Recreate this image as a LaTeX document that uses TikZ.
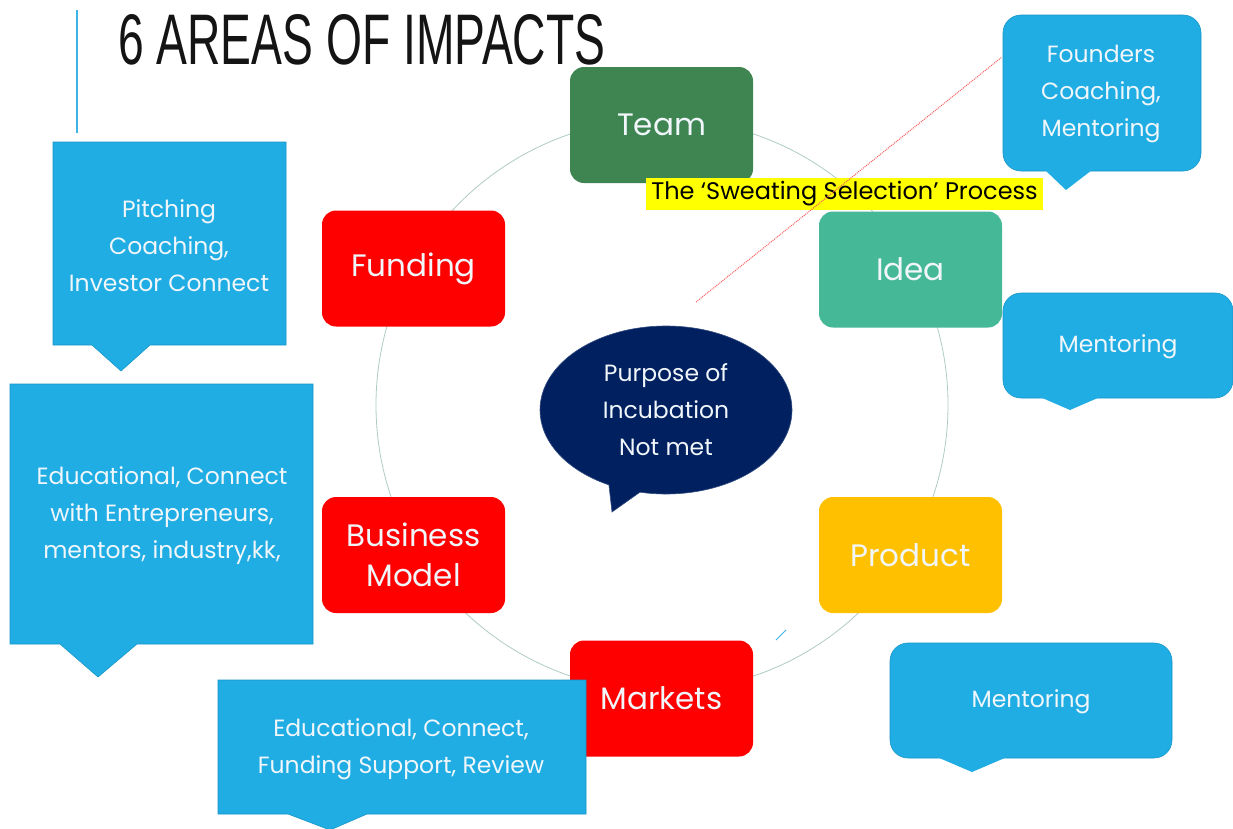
\documentclass[tikz,border=0pt]{standalone}
\usepackage{fontspec}
\usepackage{graphicx}
\setmainfont{Poppins}
\newfontfamily\titlefont{Liberation Sans}
\usetikzlibrary{shapes.callouts,shapes.geometric}
\definecolor{cblue}{RGB}{31,173,228}
\definecolor{cblueedge}{RGB}{24,150,200}
\definecolor{teamgreen}{RGB}{62,133,82}
\definecolor{ideagreen}{RGB}{69,184,151}
\definecolor{pred}{RGB}{255,0,0}
\definecolor{pyellow}{RGB}{255,192,0}
\definecolor{navy}{RGB}{0,32,96}
\definecolor{ringcol}{RGB}{175,205,190}
\definecolor{dotred}{RGB}{250,90,90}
\definecolor{hl}{RGB}{255,255,0}
\definecolor{linkblue}{RGB}{60,180,230}
\definecolor{softwhite}{RGB}{240,246,250}
\definecolor{titleblack}{RGB}{20,20,20}
\begin{document}
\begin{tikzpicture}[x=1pt,y=-1pt,
  area/.style={rounded corners=14pt, text=softwhite, minimum width=183pt, minimum height=116pt, align=center, inner sep=0pt, font=\fontsize{31}{40}\selectfont},
  calltext/.style={text=softwhite, align=center, inner sep=0pt, font=\fontsize{23.5}{37}\selectfont},
  callbox/.style={fill=cblue, draw=cblueedge, line width=0.6pt},
  tail/.style={fill=cblue},
  ring/.style={draw=ringcol, line width=0.8pt},
  selline/.style={draw=dotred, densely dotted, line width=1pt}]
\useasboundingbox (0,0) rectangle (1233,828);
\fill[white] (0,0) rectangle (1233,828);

% title
\draw[linkblue, line width=2.5pt] (77,10) -- (77,133);
\node[anchor=south west, inner sep=0pt, text=titleblack] (title) at (118,65) {\resizebox{487pt}{50pt}{\titlefont 6 AREAS OF IMPACTS}};

% ring
\draw[ring] (662,405) circle[radius=286pt];

% area boxes
\node[area, fill=teamgreen] (team) at (661.5,125) {Team};
\node[area, fill=ideagreen] (idea) at (910.5,269.5) {Idea};
\node[area, fill=pred] (funding) at (413.5,268.5) {Funding};
\node[area, fill=pred] (bm) at (413.5,555) {Business\\Model};
\node[area, fill=pyellow] (product) at (910.5,555) {Product};
\node[area, fill=pred] (markets) at (661.5,698.5) {Markets};

% highlight label
\node[fill=hl, text=black, minimum width=397pt, minimum height=32pt, inner sep=0pt, font=\fontsize{24}{26}\selectfont] (sweat) at (844.5,194) {The ‘Sweating Selection’ Process};

% dotted selection line
\coordinate (sa) at (696,302);
\coordinate (sb) at (1002,57);
\draw[selline] (sa) -- (sb);

% small mark
\coordinate (ma) at (776,640);
\coordinate (mb) at (786,630);
\draw[linkblue, line width=0.8pt] (ma) -- (mb);

% centre speech bubble
\node[ellipse callout, fill=navy, draw=navy!80!white, line width=0.6pt, minimum width=252pt, minimum height=168pt, callout absolute pointer={(612,512)}, calltext] (purpose) at (666,410) {Purpose of\\Incubation\\Not met};

% Pitching callout
\draw[callbox] (53,142) -- (286,142) -- (286,345) -- (150,345) -- (121,371) -- (92,345) -- (53,345) -- cycle;
\node[calltext] (pitch) at (169,246) {Pitching\\Coaching,\\Investor Connect};

% Educational callout
\draw[callbox] (10,384) -- (313,384) -- (313,644) -- (137,644) -- (98,677) -- (60,644) -- (10,644) -- cycle;
\node[calltext] (edu) at (162,516) {Educational, Connect\\with Entrepreneurs,\\mentors, industry,kk,};

% bottom callout
\draw[callbox] (218,680) -- (586,680) -- (586,814) -- (367,814) -- (330,830) -- (288,814) -- (218,814) -- cycle;
\node[calltext] (fund) at (401,749.5) {Educational, Connect,\\Funding Support, Review};

% Founders callout
\draw[callbox, rounded corners=18pt] (1003,15) rectangle (1201,171);
\fill[tail] (1045,170) -- (1066,190) -- (1092,170) -- cycle;
\node[calltext] (found) at (1101,94) {Founders\\Coaching,\\Mentoring};

% Mentoring (idea) callout
\draw[callbox, rounded corners=18pt] (1003,293) rectangle (1233,398);
\fill[tail] (1040,397) -- (1070,410) -- (1100,397) -- cycle;
\node[calltext] (ment1) at (1118,347) {Mentoring};

% Mentoring (product) callout
\draw[callbox, rounded corners=18pt] (890,643) rectangle (1172,758);
\fill[tail] (937,757) -- (972,772) -- (1007,757) -- cycle;
\node[calltext] (ment2) at (1031,702) {Mentoring};
\end{tikzpicture}
\end{document}
